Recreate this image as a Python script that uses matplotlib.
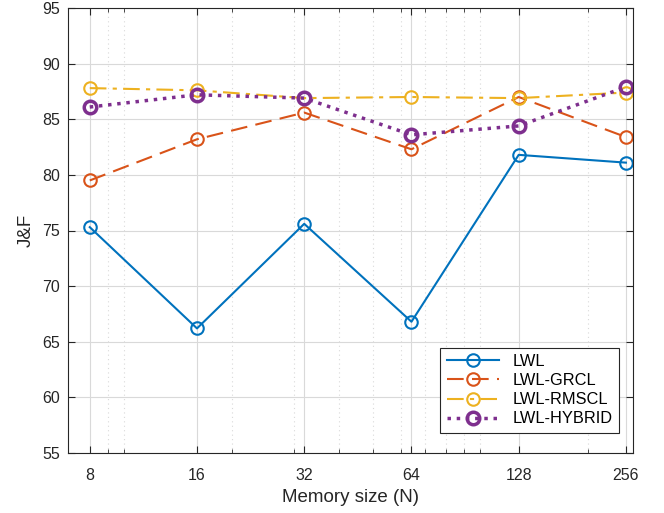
import matplotlib.pyplot as plt
from matplotlib.ticker import FixedLocator, NullFormatter

plt.rcParams['font.family'] = ['Liberation Sans', 'DejaVu Sans']

memory = [8, 16, 32, 64, 128, 256]
lwl = [75.3, 66.2, 75.6, 66.8, 81.8, 81.1]
lwl_grcl = [79.5, 83.2, 85.6, 82.3, 87.0, 83.4]
lwl_rmscl = [87.8, 87.6, 86.9, 87.0, 86.9, 87.4]
lwl_hybrid = [86.1, 87.2, 86.9, 83.6, 84.4, 87.9]

fig = plt.figure(figsize=(6.64, 5.13), dpi=100)
ax = fig.add_axes([68 / 664, 60 / 513, 565 / 664, 445 / 513])

ax.plot(memory, lwl, '-o', color='#0072BD', lw=1.5, ms=9, mfc='none', mew=1.5, label='LWL')
ax.plot(memory, lwl_grcl, '--o', color='#D95319', lw=1.5, ms=9, mfc='none', mew=1.5,
        dashes=(8, 4), label='LWL-GRCL')
ax.plot(memory, lwl_rmscl, '-.o', color='#EDB120', lw=1.5, ms=9, mfc='none', mew=1.5,
        dashes=(8, 3, 2, 3), label='LWL-RMSCL')
ax.plot(memory, lwl_hybrid, ':o', color='#7E2F8E', lw=2.5, ms=9, mfc='none', mew=2.5,
        label='LWL-HYBRID')

ax.set_xscale('log', base=2)
ax.set_xlim(6.95, 268)
ax.set_ylim(55, 95)
ax.set_xticks(memory)
ax.set_xticklabels([str(m) for m in memory])
ax.set_yticks(range(55, 96, 5))
minor = [9, 10, 20, 30, 40, 50, 60, 70, 80, 90, 100, 200]
ax.xaxis.set_minor_locator(FixedLocator(minor))
ax.xaxis.set_minor_formatter(NullFormatter())
ax.yaxis.set_minor_locator(FixedLocator([]))

ax.grid(True, which='major', color='#d9d9d9', lw=0.8)
ax.grid(True, which='minor', axis='x', color='#d9d9d9', lw=0.8, ls=(0, (1, 3)))
ax.set_axisbelow(True)

ax.tick_params(which='both', direction='in', top=True, right=True, labelsize=11.5, colors='#262626')
ax.tick_params(which='major', length=5)
ax.tick_params(which='minor', length=3)
ax.tick_params(axis='x', pad=11)
ax.tick_params(axis='y', pad=6)
for s in ax.spines.values():
    s.set_color('#262626')
    s.set_linewidth(0.8)

ax.set_xlabel('Memory size (N)', fontsize=13.5, color='#262626', labelpad=4)
ax.set_ylabel('J&F', fontsize=13.5, color='#262626', labelpad=5)

leg = ax.legend(loc='lower right', bbox_to_anchor=(0.975, 0.045), borderaxespad=0,
                fontsize=11.8, handlelength=3.2, fancybox=False,
                edgecolor='#262626', framealpha=1, labelspacing=0.25)
leg.get_frame().set_linewidth(0.8)

fig.savefig('out.png', dpi=100)
